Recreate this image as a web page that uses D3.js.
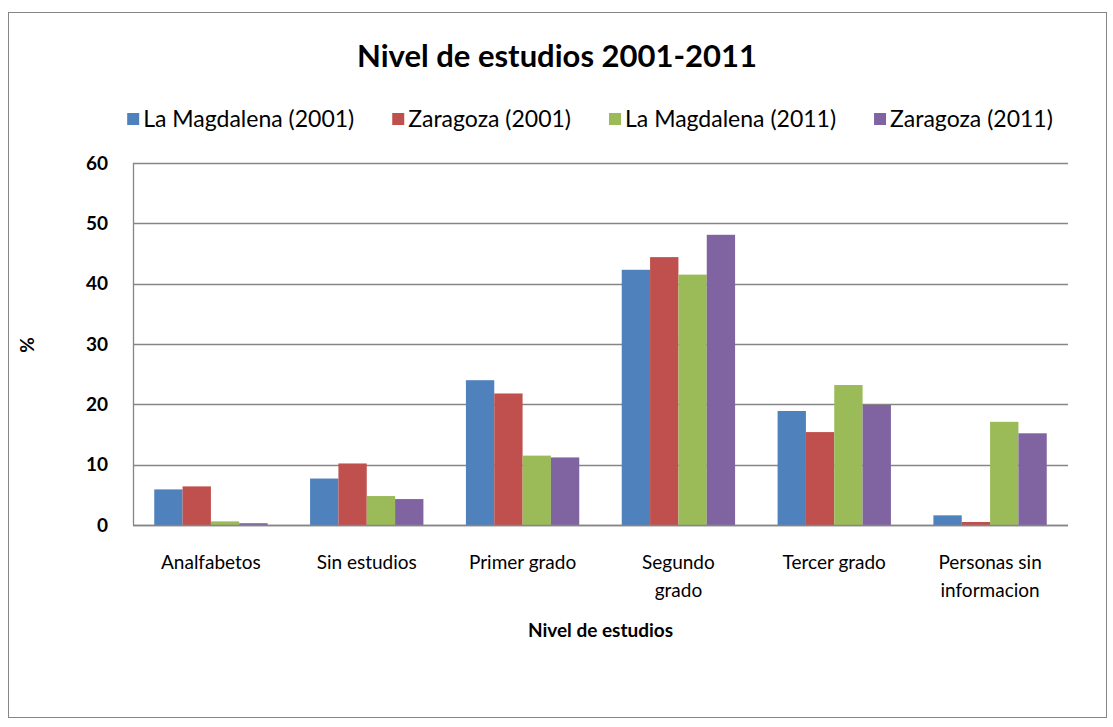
<!DOCTYPE html>
<html>
<head>
<meta charset="utf-8">
<script src="https://cdn.jsdelivr.net/npm/d3@7"></script>
<style>
  body { margin: 0; background: #fff; }
  text { font-family: Lato, "Open Sans", sans-serif; fill: #000; }
</style>
</head>
<body>
<div id="chart"></div>
<script>
// data
var categories = ["Analfabetos", "Sin estudios", "Primer grado", "Segundo grado", "Tercer grado", "Personas sin informacion"];
var catLines = [["Analfabetos"], ["Sin estudios"], ["Primer grado"], ["Segundo", "grado"], ["Tercer grado"], ["Personas sin", "informacion"]];
var seriesNames = ["La Magdalena (2001)", "Zaragoza (2001)", "La Magdalena (2011)", "Zaragoza (2011)"];
var magdalena2001 = [5.9, 7.7, 24.0, 42.3, 18.9, 1.6];
var zaragoza2001 = [6.4, 10.2, 21.8, 44.4, 15.4, 0.5];
var magdalena2011 = [0.6, 4.8, 11.5, 41.5, 23.2, 17.1];
var zaragoza2011 = [0.3, 4.3, 11.2, 48.1, 19.9, 15.2];
var yTicks = [0, 10, 20, 30, 40, 50, 60];
var colors = ["#4F81BD", "#C0504D", "#9BBB59", "#8064A2"];

var allSeries = [magdalena2001, zaragoza2001, magdalena2011, zaragoza2011];

var W = 1113, H = 727;
var plotL = 133, plotR = 1068, plotT = 163, plotB = 525;

var svg = d3.select("#chart").append("svg")
    .attr("width", W)
    .attr("height", H);

// chart border
svg.append("rect")
    .attr("x", 8.5).attr("y", 12.5)
    .attr("width", 1098).attr("height", 705)
    .attr("fill", "#fff")
    .attr("stroke", "#868686");

// gap width 150% like excel
var x = d3.scaleBand().domain(categories).range([plotL, plotR]).paddingInner(1.5 / 5.5).paddingOuter(0.75 / 5.5);
var x1 = d3.scaleBand().domain(d3.range(4)).range([0, x.bandwidth()]);
var y = d3.scaleLinear().domain([0, 60]).range([plotB, plotT]);

// gridlines
svg.append("g").selectAll("line")
    .data(yTicks)
    .join("line")
    .attr("x1", plotL).attr("x2", plotR)
    .attr("y1", function(d) { return Math.round(y(d)) + 0.5; })
    .attr("y2", function(d) { return Math.round(y(d)) + 0.5; })
    .attr("stroke", "#868686")
    .attr("stroke-width", 1.3);

// bars
var groups = svg.append("g").selectAll("g")
    .data(allSeries)
    .join("g")
    .attr("fill", function(d, i) { return colors[i]; });

groups.each(function(vals, si) {
    d3.select(this).selectAll("rect")
        .data(vals)
        .join("rect")
        .attr("x", function(d, i) { return x(categories[i]) + x1(si); })
        .attr("width", x1.bandwidth())
        .attr("y", function(d) { return y(d); })
        .attr("height", function(d) { return y(0) - y(d); });
});

// axes lines
svg.append("line")
    .attr("x1", plotL + 0.5).attr("x2", plotL + 0.5)
    .attr("y1", plotT).attr("y2", plotB)
    .attr("stroke", "#868686").attr("stroke-width", 1.3);
svg.append("line")
    .attr("x1", plotL).attr("x2", plotR)
    .attr("y1", Math.round(y(0)) + 0.5).attr("y2", Math.round(y(0)) + 0.5)
    .attr("stroke", "#868686").attr("stroke-width", 1.3);

// y tick labels
svg.append("g").selectAll("text")
    .data(yTicks)
    .join("text")
    .attr("x", 108)
    .attr("y", function(d) { return y(d); })
    .attr("dy", "0.35em")
    .attr("text-anchor", "end")
    .style("font-size", "19px")
    .style("font-weight", "bold")
    .text(function(d) { return d; });

// category labels
var catText = svg.append("g").selectAll("text")
    .data(catLines)
    .join("text")
    .attr("x", function(d, i) { return x(categories[i]) + x.bandwidth() / 2; })
    .attr("y", 569)
    .attr("text-anchor", "middle")
    .style("font-size", "19px");
catText.selectAll("tspan")
    .data(function(d) { return d; })
    .join("tspan")
    .attr("x", function() { return d3.select(this.parentNode).attr("x"); })
    .attr("dy", function(d, i) { return i === 0 ? 0 : 28; })
    .text(function(d) { return d; });

// axis titles
svg.append("text")
    .attr("x", (plotL + plotR) / 2)
    .attr("y", 637)
    .attr("text-anchor", "middle")
    .style("font-size", "19px")
    .style("font-weight", "bold")
    .text("Nivel de estudios");

svg.append("text")
    .attr("transform", "translate(34,345) rotate(-90)")
    .attr("text-anchor", "middle")
    .style("font-size", "19px")
    .style("font-weight", "bold")
    .text("%");

// title
svg.append("text")
    .attr("x", 557)
    .attr("y", 67)
    .attr("text-anchor", "middle")
    .style("font-size", "31px")
    .style("font-weight", "bold")
    .text("Nivel de estudios 2001-2011");

// legend
var legend = svg.append("g");
var lx = 0;
seriesNames.forEach(function(name, i) {
    var item = legend.append("g").attr("transform", "translate(" + lx + ",0)");
    item.append("rect")
        .attr("x", 0).attr("y", -14)
        .attr("width", 12).attr("height", 12)
        .attr("fill", colors[i]);
    var t = item.append("text")
        .attr("x", 16).attr("y", 0)
        .style("font-size", "23px")
        .text(name);
    lx += 16 + t.node().getComputedTextLength() + 38;
});
var legendW = lx - 38;
legend.attr("transform", "translate(" + (590 - legendW / 2) + ",127)");
</script>
</body>
</html>
